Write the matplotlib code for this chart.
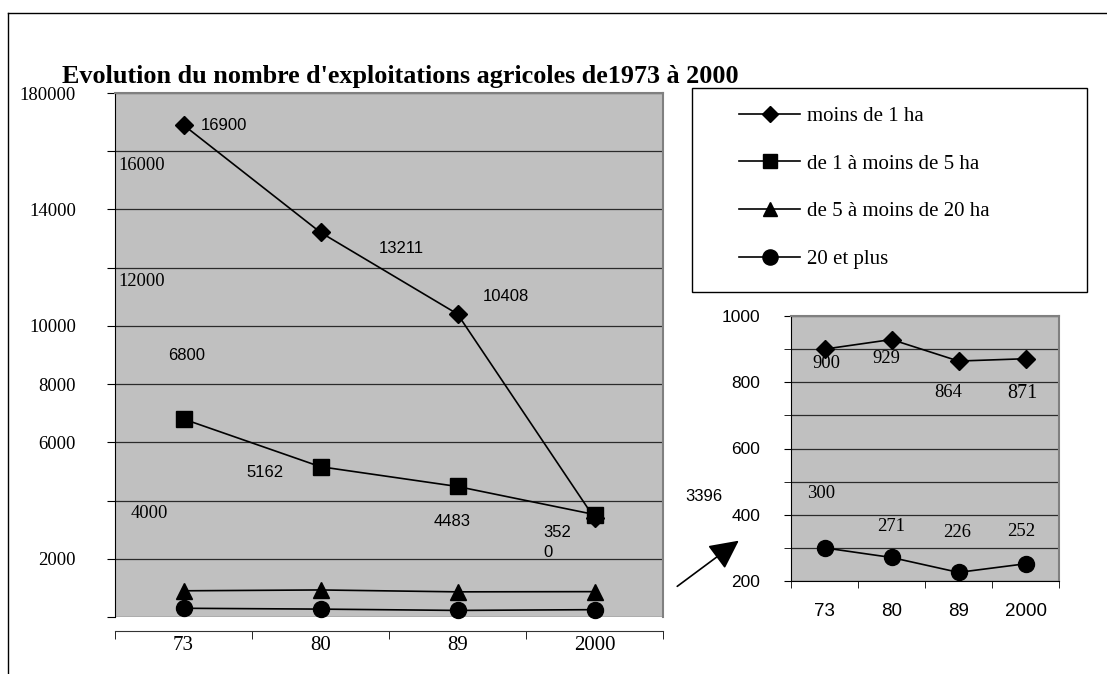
import numpy as np
import matplotlib
matplotlib.use('Agg')
from matplotlib import pyplot as plt
from matplotlib.lines import Line2D
from matplotlib.patches import Rectangle, FancyArrowPatch

SERIF = 'Liberation Serif'
SANS = 'Liberation Sans'
plt.rcParams['font.family'] = SERIF

years = ['73', '80', '89', '2000']
moins_1ha = [16900, 13211, 10408, 3396]
de_1_a_5ha = [6800, 5162, 4483, 3520]
de_5_a_20ha = [900, 929, 864, 871]
vingt_et_plus = [300, 271, 226, 252]
series_names = ['moins de 1 ha', 'de 1 à moins de 5 ha',
                'de 5 à moins de 20 ha', '20 et plus']

main_yticks = list(range(0, 18001, 2000))
main_yticklabels = ['', '2000', '', '6000', '8000', '10000', '', '14000', '', '180000']
inset_yticks = [200, 400, 600, 800, 1000]
inset_xticklabels = ['73', '80', '89', '2000']

W, H = 1107, 674
fig = plt.figure(figsize=(W / 100, H / 100), dpi=100)

# frame lines of the original sheet
fig.add_artist(Line2D([8 / W, 1], [1 - 13 / H, 1 - 13 / H], color='black', lw=1))
fig.add_artist(Line2D([8 / W, 8 / W], [0, 1 - 13 / H], color='black', lw=1))

fig.text(62 / W, 1 - 76 / H, "Evolution du nombre d'exploitations agricoles de1973 à 2000",
         fontweight='bold', fontsize=18.8, va='center', ha='left')

# ---- main chart
ax = fig.add_axes([115 / W, 1 - 617 / H, 548 / W, 524 / H])
ax.set_facecolor('#c0c0c0')
x = np.arange(len(years))
style = dict(color='black', lw=1.2, clip_on=False)
l1, = ax.plot(x, moins_1ha, marker='D', ms=9, label=series_names[0], **style)
l2, = ax.plot(x, de_1_a_5ha, marker='s', ms=11, label=series_names[1], **style)
l3, = ax.plot(x, de_5_a_20ha, marker='^', ms=11, label=series_names[2], **style)
l4, = ax.plot(x, vingt_et_plus, marker='o', ms=11.5, label=series_names[3], **style)

ax.set_xlim(-0.5, len(years) - 0.5)
ax.set_ylim(0, 18000)
ax.tick_params(axis='y', direction='out', length=6, pad=22, labelsize=13.5)
ax.tick_params(axis='x', which='major', length=0, pad=4, labelsize=15)
ax.tick_params(axis='x', which='minor', direction='out', length=6)
ax.set_yticks(main_yticks, main_yticklabels, fontsize=13.5)
ax.set_xticks(x, years, fontsize=15)
ax.set_xticks(np.arange(-0.5, len(years), 1), minor=True)
ax.yaxis.grid(True, color='#2a2a2a', lw=0.9)
ax.set_axisbelow(True)
for s in ['top', 'right']:
    ax.spines[s].set_color('#808080')
    ax.spines[s].set_linewidth(1.5)
ax.spines['left'].set_color('black')
ax.spines['bottom'].set_position(('outward', 10))
ax.spines['bottom'].set_color('#333333')

sans_lbl = dict(fontfamily=SANS, fontsize=12, textcoords='offset pixels',
                ha='center', va='center', annotation_clip=False)
ax.annotate(str(moins_1ha[0]), (0, moins_1ha[0]), xytext=(40, 0), **sans_lbl)
ax.annotate(str(moins_1ha[1]), (1, moins_1ha[1]), xytext=(81, -16), **sans_lbl)
ax.annotate(str(moins_1ha[2]), (2, moins_1ha[2]), xytext=(48, 18), **sans_lbl)
ax.annotate(str(moins_1ha[3]), (3, moins_1ha[3]), xytext=(109, 22), **sans_lbl)
ax.annotate(str(de_1_a_5ha[0]), (0, de_1_a_5ha[0]), xytext=(3, 64), **sans_lbl)
ax.annotate(str(de_1_a_5ha[1]), (1, de_1_a_5ha[1]), xytext=(-56, -6), **sans_lbl)
ax.annotate(str(de_1_a_5ha[2]), (2, de_1_a_5ha[2]), xytext=(-5, -35), **sans_lbl)
ax.annotate('352\n0', (3, de_1_a_5ha[3]), xytext=(-51, -28),
            fontfamily=SANS, fontsize=12, textcoords='offset pixels',
            ha='left', va='center', linespacing=1.4)

# stray axis labels left inside the plot
serif_in = dict(fontsize=13.3, transform=ax.transAxes, va='center')
ax.text(3 / 548, 1 - 73 / 524, '16000', ha='left', **serif_in)
ax.text(3 / 548, 1 - 189 / 524, '12000', ha='left', **serif_in)
ax.text(16 / 548, 1 - 421 / 524, '4000', ha='left', **serif_in)
ax.text(67 / 548, 5 / 524, '0', ha='center', **serif_in)

# ---- legend
fig.add_artist(Rectangle((692 / W, 1 - 292 / H), 395 / W, 204 / H,
                         transform=fig.transFigure, fill=False, ec='black', lw=1))
fig.legend(handles=[l1, l2, l3, l4], loc='upper left',
           bbox_to_anchor=(729 / W, 1 - 96 / H), frameon=False, borderpad=0,
           prop={'family': SERIF, 'size': 15}, handlelength=2.9,
           handletextpad=0.35, labelspacing=1.35, markerscale=0.95)

# ---- inset zoom on small series
ax2 = fig.add_axes([791 / W, 1 - 581 / H, 268 / W, 265 / H])
ax2.set_facecolor('#c0c0c0')
ax2.plot(x, de_5_a_20ha, marker='D', ms=9, color='black', lw=1.2, clip_on=False)
ax2.plot(x, vingt_et_plus, marker='o', ms=11.5, color='black', lw=1.2, clip_on=False)
ax2.set_xlim(-0.5, len(years) - 0.5)
ax2.set_ylim(200, 1000)
ax2.tick_params(axis='y', which='both', direction='out', length=5, pad=17,
                labelsize=12.5, labelfontfamily=SANS)
ax2.tick_params(axis='x', which='major', length=0, pad=16,
                labelsize=13.5, labelfontfamily=SANS)
ax2.tick_params(axis='x', which='minor', direction='out', length=5)
ax2.set_yticks(inset_yticks, [str(v) for v in inset_yticks], fontfamily=SANS, fontsize=12.5)
ax2.set_yticks(range(200, 1001, 100), minor=True)
ax2.set_xticks(x, inset_xticklabels, fontfamily=SANS, fontsize=13.5)
ax2.set_xticks(np.arange(-0.5, len(years), 1), minor=True)
ax2.yaxis.grid(True, which='both', color='#2a2a2a', lw=0.9)
ax2.set_axisbelow(True)
for s in ['top', 'right']:
    ax2.spines[s].set_color('#808080')
    ax2.spines[s].set_linewidth(1.5)

serif_lbl = dict(fontsize=13.4, textcoords='offset pixels',
                 ha='center', va='center', annotation_clip=False)
for i, dx, dy in [(0, 2, -14), (1, -5, -19), (2, -10, -31)]:
    ax2.annotate(str(de_5_a_20ha[i]), (i, de_5_a_20ha[i]), xytext=(dx, dy), **serif_lbl)
ax2.annotate(str(de_5_a_20ha[3]), (3, de_5_a_20ha[3]), xytext=(-3, -35),
             fontsize=14.5, textcoords='offset pixels', ha='center', va='center')
for i, dx, dy in [(0, -3, 54), (1, 0, 31), (2, -1, 40), (3, -4, 32)]:
    ax2.annotate(str(vingt_et_plus[i]), (i, vingt_et_plus[i]), xytext=(dx, dy), **serif_lbl)

# arrow pointing to the inset
fig.add_artist(FancyArrowPatch(
    (675 / W, 1 - 588 / H), (741 / W, 1 - 539 / H), transform=fig.transFigure,
    arrowstyle='-|>,head_length=0.9,head_width=0.45', mutation_scale=20,
    color='black', lw=1.2))

plt.savefig('out.png', dpi=100)
